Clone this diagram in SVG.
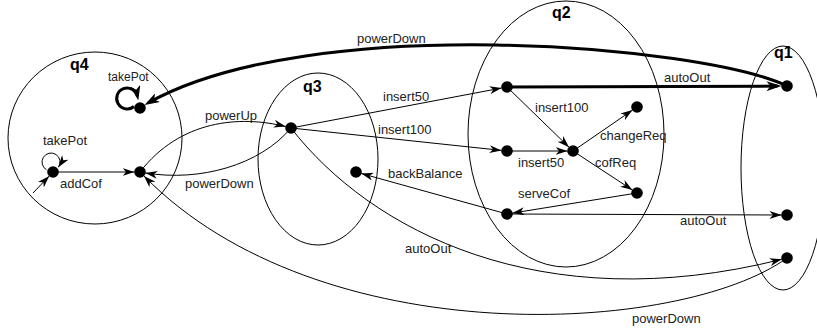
<svg xmlns="http://www.w3.org/2000/svg" width="817" height="333" viewBox="0 0 817 333">
<style>
.cl{fill:none;stroke:#000;stroke-width:1}
.ql{font-family:"Liberation Sans",Arial,sans-serif;font-size:16px;font-weight:bold;fill:#000}
.e{fill:none;stroke:#000;stroke-width:1}
.t{fill:none;stroke:#000;stroke-width:3}
.lb{font-family:"Liberation Sans",Arial,sans-serif;font-size:13px;fill:#222}
.n{fill:#000}
</style>
<defs>
<marker id="a" markerWidth="12" markerHeight="8" refX="12" refY="4" orient="auto" markerUnits="userSpaceOnUse"><path d="M0,0 L12,4 L0,8 L3.5,4 Z" fill="#000"/></marker>
<marker id="at" markerWidth="15" markerHeight="10" refX="11" refY="5" orient="auto" markerUnits="userSpaceOnUse"><path d="M0,0 L15,5 L0,10 L4,5 Z" fill="#000"/></marker>
</defs>
<rect width="817" height="333" fill="#fff"/>
<g id="q4"><ellipse class="cl" cx="95" cy="138" rx="87" ry="86"/><text class="ql" x="70" y="70">q4</text></g>
<g id="q3"><ellipse class="cl" cx="318" cy="159" rx="60" ry="86"/><text class="ql" x="303" y="92">q3</text></g>
<g id="q2"><ellipse class="cl" cx="566" cy="134" rx="98" ry="133"/><text class="ql" x="552" y="18">q2</text></g>
<g id="q1"><ellipse class="cl" cx="783" cy="168" rx="42" ry="122"/><text class="ql" x="774" y="58">q1</text></g>
<g id="connectors">
<path class="e" d="M291,128 L501.6,88" marker-end="url(#a)"/>
<path class="e" d="M291,128 L501.5,150.4" marker-end="url(#a)"/>
<path class="e" d="M507,87 L569,147.2" marker-end="url(#a)"/>
<path class="e" d="M507,151 L567.5,151" marker-end="url(#a)"/>
<path class="e" d="M573,151 L632.5,110.1" marker-end="url(#a)"/>
<path class="e" d="M573,151 L632.4,190" marker-end="url(#a)"/>
<path class="e" d="M637,193 L512.4,213.1" marker-end="url(#a)"/>
<path class="e" d="M507,214 L361.3,173.5" marker-end="url(#a)"/>
<path class="e" d="M507,214 L781.5,215" marker-end="url(#a)"/>
<path class="t" d="M507,87 L777.5,86.1" marker-end="url(#at)"/>
<path class="t" d="M787,86 C700,45 310,12 148,103" marker-end="url(#at)"/>
<path class="t" d="M134,106.5 A10.5,10.5 0 1 1 137.5,96.5" marker-end="url(#at)"/>
<path class="e" d="M46.5,169.8 A9,9 0 1 1 58.4,167.2" marker-end="url(#a)"/>
<path class="e" d="M33,193 L49.2,176" marker-end="url(#a)"/>
<path class="e" d="M53,172 L134.5,172" marker-end="url(#a)"/>
<path class="e" d="M140,172 C180,120 240,115 285.7,126.6" marker-end="url(#a)"/>
<path class="e" d="M291,128 C260,165 200,182 145.4,172.9" marker-end="url(#a)"/>
<path class="e" d="M291,128 C370,230 540,320 781.7,259.3" marker-end="url(#a)"/>
<path class="e" d="M787,258 C680,335 320,355 143.9,175.9" marker-end="url(#a)"/>
<text class="lb" x="357" y="43">powerDown</text>
<text class="lb" x="108" y="81" style="font-size:12px">takePot</text>
<text class="lb" x="43" y="145">takePot</text>
<text class="lb" x="60" y="188">addCof</text>
<text class="lb" x="205" y="120">powerUp</text>
<text class="lb" x="185" y="188">powerDown</text>
<text class="lb" x="383" y="101">insert50</text>
<text class="lb" x="378" y="134">insert100</text>
<text class="lb" x="388" y="178">backBalance</text>
<text class="lb" x="405" y="253">autoOut</text>
<text class="lb" x="664" y="82">autoOut</text>
<text class="lb" x="535" y="112">insert100</text>
<text class="lb" x="600" y="140">changeReq</text>
<text class="lb" x="518" y="167">insert50</text>
<text class="lb" x="595" y="167">cofReq</text>
<text class="lb" x="518" y="198">serveCof</text>
<text class="lb" x="680" y="225">autoOut</text>
<text class="lb" x="632" y="323">powerDown</text>
</g>
<g id="n_q4_top"><circle class="n" cx="140" cy="108" r="5.8"/></g>
<g id="n_q4_init"><circle class="n" cx="53" cy="172" r="5.8"/></g>
<g id="n_q4_cof"><circle class="n" cx="140" cy="172" r="5.8"/></g>
<g id="n_q3_a"><circle class="n" cx="291" cy="128" r="5.8"/></g>
<g id="n_q3_b"><circle class="n" cx="356" cy="172" r="5.8"/></g>
<g id="n_q2_a"><circle class="n" cx="507" cy="87" r="5.8"/></g>
<g id="n_q2_b"><circle class="n" cx="507" cy="151" r="5.8"/></g>
<g id="n_q2_c"><circle class="n" cx="573" cy="151" r="5.8"/></g>
<g id="n_q2_d"><circle class="n" cx="637" cy="107" r="5.8"/></g>
<g id="n_q2_e"><circle class="n" cx="637" cy="193" r="5.8"/></g>
<g id="n_q2_f"><circle class="n" cx="507" cy="214" r="5.8"/></g>
<g id="n_q1_a"><circle class="n" cx="787" cy="86" r="5.8"/></g>
<g id="n_q1_b"><circle class="n" cx="787" cy="215" r="5.8"/></g>
<g id="n_q1_c"><circle class="n" cx="787" cy="258" r="5.8"/></g>
</svg>
